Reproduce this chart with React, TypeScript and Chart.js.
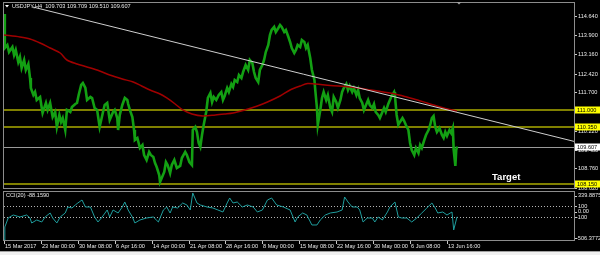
import { useEffect, useRef } from "react";
import { Chart, registerables } from "chart.js";
Chart.register(...registerables);

// ---- data (bar index on x, price / CCI value on y) ----
const priceBars = [0,1,4,6,10,12,14,17,19,21,24,26,29,31,32,35,37,39,43,45,46,50,52,55,58,61,63,66,68,70,73,75,79,81,85,87,89,92,94,97,99,103,105,108,111,114,118,120,123,126,130,132,135,136,138,141,144,147,148,150,153,155,156,159,162,165,167,170,173,175,178,180,182,185,186,188,191,193,195,198,200,203,206,210,212,216,218,221,224,225,228,230,232,234,236,238,241,243,246,248,250,253,256,259,261,263,266,268,271,273,275,278,280,283,285,288,291,293,296,298,300,303,305,308,310,312,315,317,319,322,324,327,329,331,334,336,339,341,343,346,348,350,353,355,358,360,362,365,367,370,371,373,374,377,379,381,384,386,389,391,393,396,398,401,403,405,408,410,412,415,417,420,422,424,427,429,432,434,436,439,441,443,446,448,451,453,455,458,460,462,465,466,468,470,472,475,477,479,482,484,486,489,491,494,496,498,501,503,506,508,510,512,514,516,519,522,524,526,528,531,533,535,536,538,539,540];
const priceCloses = [114.717,113.406,113.522,113.252,113.445,113.136,113.329,112.866,113.059,112.635,112.943,112.558,112.789,112.249,111.864,111.594,111.709,111.401,111.517,111.093,110.900,111.285,111.016,111.285,110.746,110.939,110.360,110.823,110.553,110.707,110.244,111.016,110.939,111.131,111.247,111.285,111.594,111.980,112.057,111.864,111.401,111.517,111.478,111.093,111.016,110.360,110.939,111.208,111.285,110.630,110.939,111.016,110.707,110.244,110.823,111.208,111.478,111.401,111.247,111.016,110.746,110.244,109.859,109.936,109.551,109.666,109.280,109.087,109.396,109.280,109.203,108.972,108.817,108.509,108.239,108.393,108.625,109.010,108.895,108.586,108.895,109.087,108.779,108.856,109.164,109.396,109.280,109.010,108.895,110.244,110.360,110.167,109.743,109.589,110.052,110.437,110.938,111.478,111.671,111.324,111.517,111.401,111.594,111.709,111.401,111.555,111.864,111.709,112.018,111.902,112.172,112.095,112.365,112.249,112.481,112.751,112.558,112.943,112.828,112.481,112.249,112.095,112.558,112.751,112.943,113.252,113.522,113.907,114.100,114.216,114.023,114.177,114.293,114.216,114.023,114.100,113.830,113.638,113.406,113.213,113.329,113.522,113.445,113.715,113.638,113.406,113.522,113.020,112.558,112.172,111.787,111.093,110.437,111.016,111.478,111.709,111.401,111.594,111.093,110.939,111.517,111.324,111.093,111.401,111.709,111.864,112.018,111.787,111.941,111.709,111.864,111.594,111.787,111.478,111.285,111.016,111.247,111.401,111.208,111.093,111.247,110.939,110.823,110.707,110.939,111.093,110.939,111.247,111.401,111.555,111.709,111.555,110.823,110.437,110.553,110.707,110.591,110.437,110.244,109.743,109.473,109.280,109.551,109.357,109.666,109.551,109.859,110.052,110.244,110.437,110.707,110.784,110.360,110.167,110.321,110.052,109.936,110.167,110.013,110.244,110.129,110.321,109.473,108.856,109.473,109.607];

const maBars = [0,19,31,43,55,67,75,87,99,114,126,141,154,164,174,186,194,204,213,224,237,252,263,273,287,302,314,329,341,353,362,371,389,412,430,452,466,480,493,504,520,534,540];
const maValues = [113.907,113.830,113.753,113.599,113.406,113.213,112.943,112.789,112.674,112.519,112.365,112.211,112.095,111.941,111.787,111.633,111.478,111.247,111.016,110.861,110.784,110.823,110.861,110.900,111.016,111.170,111.324,111.555,111.787,111.941,112.037,112.018,111.960,111.902,111.825,111.709,111.632,111.517,111.401,111.285,111.131,111.016,110.977];

const cciBars = [0,1,5,11,19,27,31,33,39,45,49,55,58,63,67,73,76,81,85,88,93,97,103,108,112,117,123,126,130,136,141,144,148,153,156,162,170,178,184,190,194,198,201,207,213,218,222,225,230,234,242,249,255,261,266,269,273,278,284,290,297,302,308,314,319,325,333,341,347,350,356,361,367,373,377,383,389,397,403,406,410,415,421,424,428,433,439,442,446,451,457,460,466,470,474,480,486,492,498,504,510,514,517,523,528,534,536,540];
const cciValues = [-506.38,-272,-110,-56,-92,-56,-110,-200,-146,-182,-92,-20,-110,-200,-92,-20,88,70,124,160,214,88,88,-92,-182,-92,34,-92,34,-20,88,178,34,-92,-200,-146,-110,-92,-182,34,88,-20,88,70,160,124,34,339.89,160,124,88,70,34,-2,160,250,160,178,88,124,88,-2,34,214,250,124,88,34,-182,-92,-20,-56,-236,-236,-146,-56,-20,-2,34,268,178,88,88,34,-182,-110,-110,-182,-92,-146,-2,88,178,-92,-110,-110,-182,-110,-20,70,160,70,-20,-2,-56,-2,-326,-88.16];

const trendBars = [34, 680];
const trendValues = [114.99, 109.80];

const levelValues = [111.0, 110.35, 108.15];
const levelLabels = ["111.000", "110.350", "108.150"];
const bidValue = 109.607;
const bidLabel = "109.607";

const priceTickValues = [114.64, 113.9, 113.16, 112.42, 111.7, 110.96, 110.22, 109.48, 108.76, 108.02];
const priceTickLabels = ["114.640", "113.900", "113.160", "112.420", "111.700", "110.960", "110.220", "109.480", "108.760", "108.020"];

const cciTickValues = [339.8875, 100, 0, -100, -506.3772];
const cciTickLabels = ["339.8875", "100", "0.00", "-100", "-506.3772"];
const cciLevels = [100, -100];

const timeTickBars = [0, 44, 88, 132, 176, 220, 264, 308, 352, 396, 440, 484, 528];
const timeTickLabels = ["15 Mar 2017", "23 Mar 00:00", "30 Mar 08:00", "6 Apr 16:00", "14 Apr 00:00", "21 Apr 08:00", "28 Apr 16:00", "8 May 00:00", "15 May 08:00", "22 May 16:00", "30 May 00:00", "6 Jun 08:00", "13 Jun 16:00"];

const titleText = "USDJPY,H4  109.703 109.709 109.510 109.607";
const cciTitle = "CCI(20) -88.1590";
const targetText = "Target";

// ---- axis ranges ----
const X_MAX = 679.4;
const PRICE_MIN = 106.002;
const PRICE_MAX = 115.141;
const CCI_MIN = -506.3772;
const CCI_MAX = 3760.95;

const FONT = "5.6px 'Liberation Sans', Arial, sans-serif";

const pts = (xs: number[], ys: number[]) => xs.map((x, i) => ({ x, y: ys[i] }));

const mtPlugin = {
  id: "mt",
  beforeDraw(chart: any) {
    const { ctx } = chart;
    ctx.save();
    ctx.fillStyle = "#000";
    ctx.fillRect(0, 0, chart.width, chart.height);
    ctx.fillStyle = "#f0f0f0";
    ctx.fillRect(0, 252, chart.width, 3);
    ctx.strokeStyle = "#a0a0a0";
    ctx.lineWidth = 1;
    ctx.beginPath();
    ctx.moveTo(0, 251.5);
    ctx.lineTo(chart.width, 251.5);
    ctx.stroke();
    ctx.restore();
  },
  beforeDatasetsDraw(chart: any) {
    const { ctx, chartArea: a, scales } = chart;
    const yP = scales.y;
    const yC = scales.cci;
    ctx.save();
    ctx.strokeStyle = "#808000";
    ctx.lineWidth = 2;
    levelValues.forEach((v) => {
      const y = Math.round(yP.getPixelForValue(v));
      ctx.beginPath();
      ctx.moveTo(a.left, y);
      ctx.lineTo(a.right, y);
      ctx.stroke();
    });
    ctx.strokeStyle = "#9a9a9a";
    ctx.lineWidth = 1;
    const yb = Math.round(yP.getPixelForValue(bidValue)) + 0.5;
    ctx.beginPath();
    ctx.moveTo(a.left, yb);
    ctx.lineTo(a.right, yb);
    ctx.stroke();
    ctx.setLineDash([1, 2]);
    ctx.strokeStyle = "#b4b4b4";
    cciLevels.forEach((v) => {
      const y = Math.round(yC.getPixelForValue(v)) + 0.5;
      ctx.beginPath();
      ctx.moveTo(a.left, y);
      ctx.lineTo(a.right, y);
      ctx.stroke();
    });
    ctx.restore();
  },
  afterDraw(chart: any) {
    const { ctx, scales } = chart;
    const xs = scales.x;
    const yP = scales.y;
    const yC = scales.cci;
    ctx.save();
    // pane borders
    ctx.strokeStyle = "#8c8c8c";
    ctx.lineWidth = 1;
    ctx.strokeRect(3.5, 2.5, 571, 186);
    ctx.strokeRect(3.5, 191.5, 571, 49);

    ctx.font = FONT;
    ctx.textBaseline = "middle";
    ctx.textAlign = "left";

    // price axis ticks
    priceTickValues.forEach((v, i) => {
      const y = Math.round(yP.getPixelForValue(v)) + 0.5;
      ctx.strokeStyle = "#c8c8c8";
      ctx.beginPath();
      ctx.moveTo(575, y);
      ctx.lineTo(577, y);
      ctx.stroke();
      ctx.fillStyle = "#e8e8e8";
      ctx.fillText(priceTickLabels[i], 578, y);
    });
    // level tags
    levelValues.forEach((v, i) => {
      const y = yP.getPixelForValue(v);
      ctx.fillStyle = "#ffff00";
      ctx.fillRect(575, Math.round(y) - 3.5, 25, 7);
      ctx.fillStyle = "#000";
      ctx.fillText(levelLabels[i], 577, Math.round(y));
    });
    {
      const y = yP.getPixelForValue(bidValue);
      ctx.fillStyle = "#ffffff";
      ctx.fillRect(575, Math.round(y) - 3.5, 25, 7);
      ctx.fillStyle = "#000";
      ctx.fillText(bidLabel, 577, Math.round(y));
    }

    // CCI axis
    cciTickValues.forEach((v, i) => {
      let y = yC.getPixelForValue(v);
      y = Math.min(Math.max(y, 195.5), 238);
      ctx.strokeStyle = "#c8c8c8";
      ctx.beginPath();
      ctx.moveTo(575, Math.round(y) + 0.5);
      ctx.lineTo(577, Math.round(y) + 0.5);
      ctx.stroke();
      ctx.fillStyle = "#e8e8e8";
      ctx.fillText(cciTickLabels[i], cciTickLabels[i].startsWith("-") ? 576 : 578, y);
    });

    // time axis
    timeTickBars.forEach((b, i) => {
      const x = Math.round(xs.getPixelForValue(b)) + 0.5;
      ctx.strokeStyle = "#c8c8c8";
      ctx.beginPath();
      ctx.moveTo(x, 241);
      ctx.lineTo(x, 244);
      ctx.stroke();
      ctx.fillStyle = "#e8e8e8";
      ctx.fillText(timeTickLabels[i], x + 0.5, 246.5);
    });

    // titles
    ctx.fillStyle = "#ffffff";
    ctx.beginPath();
    ctx.moveTo(5, 5);
    ctx.lineTo(9, 5);
    ctx.lineTo(7, 7.5);
    ctx.closePath();
    ctx.fill();
    ctx.fillStyle = "#e8e8e8";
    ctx.fillText(titleText, 12, 6.5);
    ctx.fillText(cciTitle, 6, 195.5);

    // chart shift marker
    ctx.fillStyle = "#a0a0a0";
    ctx.beginPath();
    ctx.moveTo(456.5, 2);
    ctx.lineTo(461.5, 2);
    ctx.lineTo(459, 4.5);
    ctx.closePath();
    ctx.fill();

    // Target label
    ctx.font = "bold 9.5px 'Liberation Sans', Arial, sans-serif";
    ctx.textBaseline = "alphabetic";
    ctx.fillStyle = "#ffffff";
    ctx.fillText(targetText, 492, 180);
    ctx.restore();
  },
};

export default function App() {
  const ref = useRef<HTMLCanvasElement>(null);
  useEffect(() => {
    const canvas = ref.current;
    if (!canvas) return;
    const chart = new Chart(canvas, {
      type: "line",
      data: {
        datasets: [
          {
            data: pts(trendBars, trendValues),
            borderColor: "#cfcfcf",
            borderWidth: 1,
            pointRadius: 0,
            yAxisID: "y",
          },
          {
            data: pts(maBars, maValues),
            borderColor: "#a00000",
            borderWidth: 1.5,
            pointRadius: 0,
            tension: 0.3,
            yAxisID: "y",
          },
          {
            data: pts(cciBars, cciValues),
            borderColor: "#1f9e9e",
            borderWidth: 1,
            pointRadius: 0,
            yAxisID: "cci",
          },
          {
            data: pts(priceBars, priceCloses),
            borderColor: "#13a013",
            borderWidth: 2.6,
            pointRadius: 0,
            yAxisID: "y",
          },
        ],
      },
      options: {
        animation: false,
        responsive: false,
        maintainAspectRatio: false,
        events: [],
        layout: { padding: { left: 4, top: 3, right: 26, bottom: 15 } },
        plugins: { legend: { display: false }, tooltip: { enabled: false }, title: { display: false } },
        scales: {
          x: { type: "linear", min: 0, max: X_MAX, display: false },
          y: { type: "linear", min: PRICE_MIN, max: PRICE_MAX, display: false },
          cci: { type: "linear", min: CCI_MIN, max: CCI_MAX, display: false },
        },
      },
      plugins: [mtPlugin],
    } as any);
    return () => chart.destroy();
  }, []);
  return (
    <div style={{ position: "fixed", left: 0, top: 0, width: 600, height: 255, background: "#000" }}>
      <canvas ref={ref} width={600} height={255} style={{ display: "block" }} />
    </div>
  );
}
